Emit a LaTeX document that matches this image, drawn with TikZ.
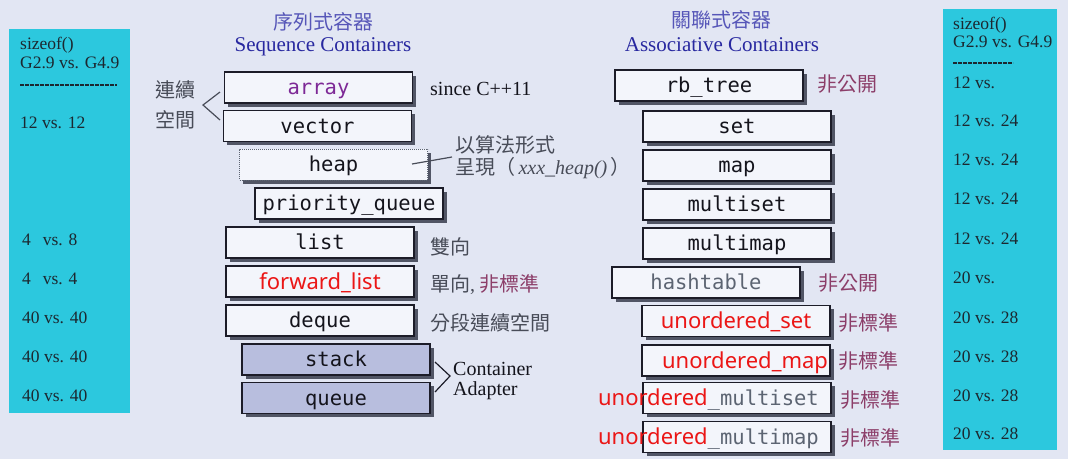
\documentclass[tikz,border=0pt]{standalone}
\usepackage{fontspec}
\setmainfont{Liberation Serif}
\newfontfamily\cjkf{Noto Sans CJK TC}
\newfontfamily\monof{DejaVu Sans Mono}
\newfontfamily\redf{Noto Sans}
\usetikzlibrary{shadows}
\definecolor{bgc}{RGB}{226,230,243}
\definecolor{cyanp}{RGB}{44,200,222}
\definecolor{ptext}{RGB}{28,40,48}
\definecolor{headblue}{RGB}{40,40,160}
\definecolor{headcjk}{RGB}{86,86,184}
\definecolor{boxline}{RGB}{28,28,40}
\definecolor{boxfill}{RGB}{243,245,251}
\definecolor{adfill}{RGB}{184,190,222}
\definecolor{shadowc}{RGB}{74,78,94}
\definecolor{boxtext}{RGB}{20,20,28}
\definecolor{purpt}{RGB}{125,40,150}
\definecolor{maroon}{RGB}{140,62,105}
\definecolor{annot}{RGB}{72,76,88}
\definecolor{graytext}{RGB}{92,100,114}
\definecolor{redc}{RGB}{235,22,22}
\tikzset{
  cbox/.style={draw=boxline, line width=1.4pt, fill=boxfill,
    minimum width=188pt, minimum height=31pt, inner sep=0pt,
    text height=16pt, text depth=2pt,
    font=\monof\fontsize{20.5}{20.5}\selectfont, text=boxtext,
    drop shadow={shadow xshift=3.5pt, shadow yshift=-3.5pt, fill=shadowc, opacity=0.95}},
  adbox/.style={cbox, fill=adfill},
  dotbox/.style={cbox, draw=graytext, line width=1pt, densely dotted},
  redtxt/.style={font=\redf\fontsize{22}{22}\selectfont, text=redc,
    text height=17pt, text depth=2pt},
  ptxt/.style={anchor=west, inner sep=0pt, font=\fontsize{17.5}{17.5}\selectfont, text=ptext},
  pdash/.style={draw=ptext, line width=1.6pt, dash pattern=on 4pt off 1pt},
  headc/.style={inner sep=0pt, font=\cjkf\fontsize{20}{20}\selectfont, text=headcjk},
  heade/.style={inner sep=0pt, font=\fontsize{21}{21}\selectfont, text=headblue},
  cjklab/.style={anchor=west, inner sep=0pt, font=\cjkf\fontsize{20}{20}\selectfont, text=annot},
  serlab/.style={anchor=west, inner sep=0pt, font=\fontsize{20}{20}\selectfont, text=boxtext},
  redlab/.style={anchor=west, inner sep=0pt, font=\cjkf\fontsize{20}{20}\selectfont, text=maroon},
  bracel/.style={draw=annot, line width=1.2pt},
}
\begin{document}
\begin{tikzpicture}[x=1pt,y=-1pt]
\useasboundingbox (0,0) rectangle (1068,459);
\fill[bgc] (0,0) rectangle (1068,459);
% cyan panels
\fill[cyanp] (9,29) rectangle (130,413);
\fill[cyanp] (943,9) rectangle (1057,450);
% left panel text
\node[ptxt] (ls1) at (20,45) {sizeof()};
\node[ptxt] (ls2) at (20,63) {G2.9 vs. G4.9};
\draw[pdash] (20,85) -- (117,85);
\node[ptxt] (l1) at (20,123) {12 vs. 12};
\node[ptxt] (l2) at (22,240) {4\hspace{12pt}vs. 8};
\node[ptxt] (l3) at (22,279) {4\hspace{12pt}vs. 4};
\node[ptxt] (l4) at (22,318) {40 vs. 40};
\node[ptxt] (l5) at (22,357) {40 vs. 40};
\node[ptxt] (l6) at (22,396) {40 vs. 40};
% right panel text
\node[ptxt] (rs1) at (953,25) {sizeof()};
\node[ptxt] (rs2) at (953,42) {G2.9 vs. G4.9};
\draw[pdash] (953,63) -- (1013,63);
\node[ptxt] (r1) at (953,83) {12 vs.};
\node[ptxt] (r2) at (953,121) {12 vs. 24};
\node[ptxt] (r3) at (953,160) {12 vs. 24};
\node[ptxt] (r4) at (953,199) {12 vs. 24};
\node[ptxt] (r5) at (953,239) {12 vs. 24};
\node[ptxt] (r6) at (953,278) {20 vs.};
\node[ptxt] (r7) at (953,318) {20 vs. 28};
\node[ptxt] (r8) at (953,357) {20 vs. 28};
\node[ptxt] (r9) at (953,396) {20 vs. 28};
\node[ptxt] (r10) at (953,434) {20 vs. 28};
% headings
\node[headc] (h1) at (323,22) {序列式容器};
\node[heade] (h2) at (323,47) {Sequence Containers};
\node[headc] (h3) at (721,20) {關聯式容器};
\node[heade] (h4) at (722,45) {Associative Containers};
% sequence containers
\node[cbox, text=purpt] (array) at (318.5,87.5) {array};
\node[cbox] (vector) at (317.5,126) {vector};
\node[dotbox] (heap) at (333.5,164.5) {heap};
\node[cbox] (pq) at (349,203.5) {priority\_queue};
\node[cbox] (list) at (320,242.5) {list};
\node[cbox, redtxt] (flist) at (320,281.5) {forward\_list};
\node[cbox] (deque) at (320,320.5) {deque};
\node[adbox] (stack) at (336,359.5) {stack};
\node[adbox] (queue) at (336,398) {queue};
% associative containers
\node[cbox] (rbtree) at (709,85.5) {rb\_tree};
\node[cbox] (set) at (737,126.5) {set};
\node[cbox] (map) at (737,165.5) {map};
\node[cbox] (mset) at (737,204.5) {multiset};
\node[cbox] (mmap) at (737,243.5) {multimap};
\node[cbox, text=graytext] (hash) at (706,282.5) {hashtable};
\node[cbox, redtxt] (uset) at (736,321) {unordered\_set};
\node[cbox] (umap) at (736,360.5) {};
\node[redtxt, inner sep=0pt] (umapt) at (745,361) {unordered\_map};
\node[cbox] (umset) at (737,398) {};
\node[anchor=east, inner sep=0pt, text height=17pt, text depth=2pt] (umsett) at (819,398)
  {{\redf\fontsize{22}{22}\selectfont\color{redc}unordered}{\monof\fontsize{20.5}{20.5}\selectfont\color{graytext}\_multiset}};
\node[cbox] (ummap) at (737,437) {};
\node[anchor=east, inner sep=0pt, text height=17pt, text depth=2pt] (ummapt) at (819,437)
  {{\redf\fontsize{22}{22}\selectfont\color{redc}unordered}{\monof\fontsize{20.5}{20.5}\selectfont\color{graytext}\_multimap}};
% left annotations
\node[cjklab] (lx1) at (155,90) {連續};
\node[cjklab] (lx2) at (155,120) {空間};
\coordinate (b1a) at (220,92);
\coordinate (b1b) at (203,105);
\coordinate (b1c) at (220,120);
\draw[bracel] (b1a) -- (b1b) -- (b1c);
\node[serlab] (since) at (430,89) {since C++11};
\node[cjklab] (alg1) at (455,145) {以算法形式};
\node[cjklab] (alg2) at (455,168) {呈現（{\rmfamily\itshape\,xxx\_heap()\,}）};
\coordinate (hl1) at (412,164);
\coordinate (hl2) at (452,157);
\draw[bracel] (hl1) -- (hl2);
\node[cjklab] (bi) at (430,247) {雙向};
\node[cjklab] (uni) at (430,285) {單向{\rmfamily ,} {\color{maroon}非標準}};
\node[cjklab] (seg) at (430,323) {分段連續空間};
\coordinate (b2a) at (435,362);
\coordinate (b2b) at (450,376);
\coordinate (b2c) at (435,392);
\draw[bracel, draw=boxline] (b2a) -- (b2b) -- (b2c);
\node[serlab, align=left, font=\fontsize{20}{20}\selectfont] (adapt) at (453,381) {Container\\Adapter};
% right annotations
\node[redlab] (np1) at (817,84) {非公開};
\node[redlab] (np2) at (818,283) {非公開};
\node[redlab] (ns1) at (838,323) {非標準};
\node[redlab] (ns2) at (838,361) {非標準};
\node[redlab] (ns3) at (840,400) {非標準};
\node[redlab] (ns4) at (840,438) {非標準};
\end{tikzpicture}
\end{document}
